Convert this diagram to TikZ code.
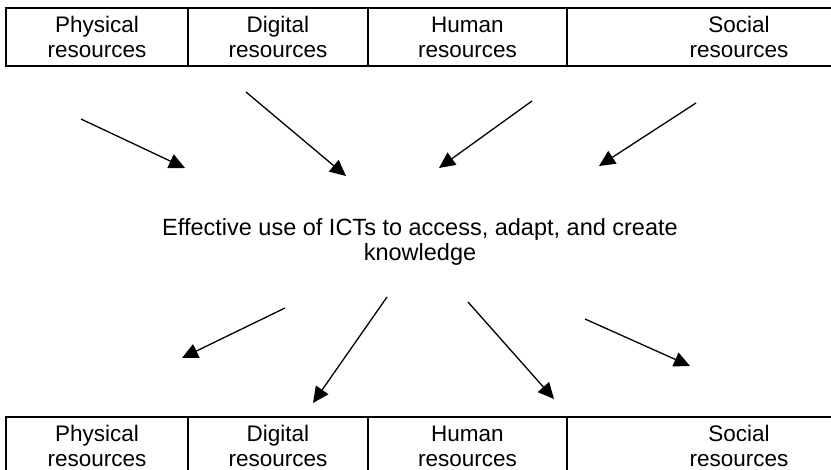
\documentclass[tikz,border=0pt]{standalone}
\usepackage{fontspec}
\setmainfont{Liberation Sans}
\usetikzlibrary{arrows.meta}
\begin{document}
\begin{tikzpicture}[x=1pt,y=-1pt,
  cell/.style={draw, line width=1.3pt, rectangle, inner sep=0pt, minimum height=58pt, align=center, font=\fontsize{22.5}{25}\selectfont},
  caption/.style={align=center, inner sep=0pt, font=\fontsize{23.5}{25}\selectfont},
  flow/.style={line width=1.3pt, -{Triangle[length=16pt,width=15pt]}}]
\clip (0,0) rectangle (831,470);
\useasboundingbox (0,0) rectangle (831,470);
% top row
\node[cell, minimum width=182pt] (tp) at (97,37) {Physical\\resources};
\node[cell, minimum width=180pt] (td) at (278,37) {Digital\\resources};
\node[cell, minimum width=199pt] (th) at (467.5,37) {Human\\resources};
\node[cell, minimum width=344pt] (ts) at (739,37) {Social\\resources};
% bottom row
\node[cell, minimum width=182pt] (bp) at (97,446) {Physical\\resources};
\node[cell, minimum width=180pt] (bd) at (278,446) {Digital\\resources};
\node[cell, minimum width=199pt] (bh) at (467.5,446) {Human\\resources};
\node[cell, minimum width=344pt] (bs) at (739,446) {Social\\resources};
% centre text
\node[caption] (mid) at (420,242) {Effective use of ICTs to access, adapt, and create\\knowledge};
% arrow end points
\coordinate (a1s) at (81,119);  \coordinate (a1e) at (185,168);
\coordinate (a2s) at (246,92);  \coordinate (a2e) at (346,176);
\coordinate (a3s) at (532,101); \coordinate (a3e) at (439,168);
\coordinate (a4s) at (696,103); \coordinate (a4e) at (599,166);
\coordinate (a5s) at (285,308); \coordinate (a5e) at (182,358);
\coordinate (a6s) at (387,297); \coordinate (a6e) at (313,403);
\coordinate (a7s) at (468,302); \coordinate (a7e) at (554,399);
\coordinate (a8s) at (585,319); \coordinate (a8e) at (690,366);
\draw[flow] (a1s) -- (a1e);
\draw[flow] (a2s) -- (a2e);
\draw[flow] (a3s) -- (a3e);
\draw[flow] (a4s) -- (a4e);
\draw[flow] (a5s) -- (a5e);
\draw[flow] (a6s) -- (a6e);
\draw[flow] (a7s) -- (a7e);
\draw[flow] (a8s) -- (a8e);
\end{tikzpicture}
\end{document}
